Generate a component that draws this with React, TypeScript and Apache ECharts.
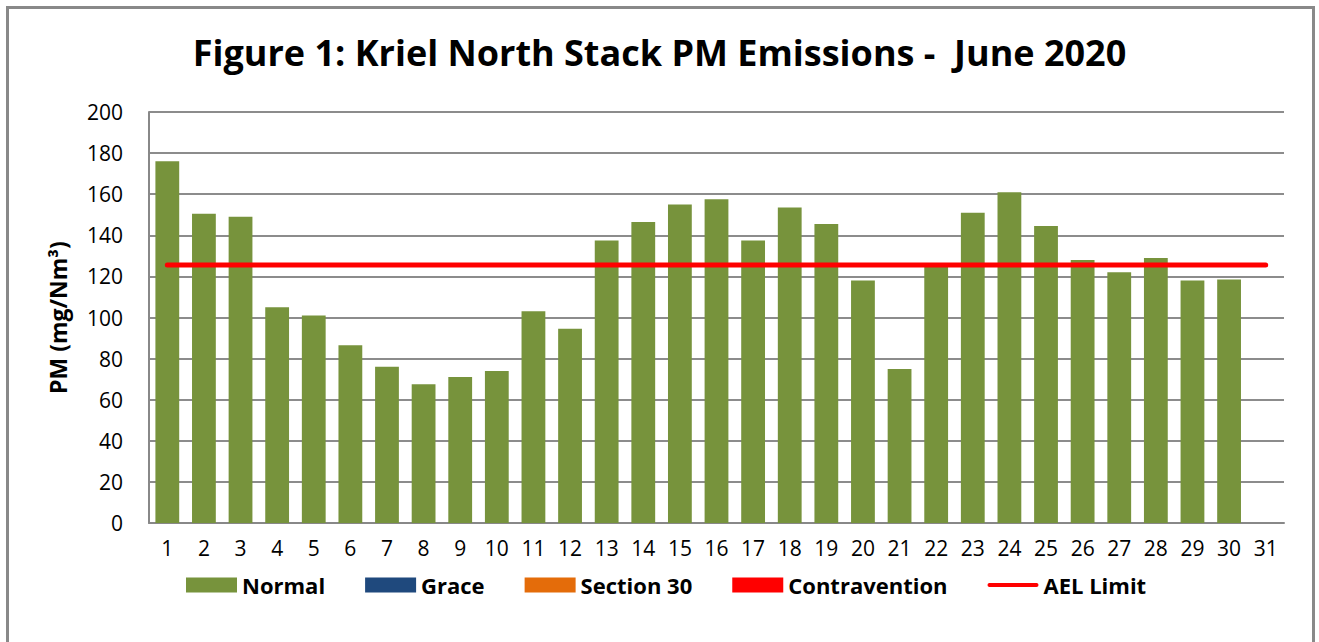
import React, { useEffect, useRef } from "react";
import * as echarts from "echarts";

const days = Array.from({ length: 31 }, (_, i) => String(i + 1));
const normal = [176, 150.5, 149, 105, 101, 86.5, 76, 67.5, 71, 74, 103, 94.5, 137.5, 146.5, 155, 157.5, 137.5, 153.5, 145.5, 118, 75, 125.5, 151, 161, 144.5, 128, 122, 129, 118, 118.5, null];
const grace: (number | null)[] = [];
const section30: (number | null)[] = [];
const contravention: (number | null)[] = [];
const aelLimit = days.map(() => 125.5);
const yTicks = { min: 0, max: 200, interval: 20 };

const FONT = "Open Sans";

export default function App() {
  const ref = useRef<HTMLDivElement>(null);
  useEffect(() => {
    document.body.style.margin = "0";
    const chart = echarts.init(ref.current!, null, { renderer: "svg" });
    chart.setOption({
      animation: false,
      backgroundColor: "#ffffff",
      textStyle: { fontFamily: FONT, color: "#000" },
      title: {
        text: "Figure 1: Kriel North Stack PM Emissions -  June 2020",
        left: "center",
        top: 29,
        textStyle: { fontFamily: FONT, fontWeight: "bold", fontSize: 36, color: "#000" },
      },
      graphic: [
        {
          type: "rect",
          shape: { x: 7.5, y: 7.5, width: 1306, height: 700 },
          style: { fill: "none", stroke: "#898989", lineWidth: 3 },
          silent: true,
        },
      ],
      grid: { left: 149, right: 35, top: 112, bottom: 119 },
      legend: {
        top: 569,
        left: 181,
        itemWidth: 51,
        itemHeight: 15,
        itemGap: 40,
        textStyle: { fontFamily: FONT, fontWeight: "bold", fontSize: 22, color: "#000" },
        data: [
          { name: "Normal", icon: "rect" },
          { name: "Grace", icon: "rect" },
          { name: "Section 30", icon: "rect" },
          { name: "Contravention", icon: "rect" },
          { name: "AEL Limit", icon: "path://M2,0 L50,0 A2,2 0 0 1 50,4 L2,4 A2,2 0 0 1 2,0 Z" },
        ],
      },
      xAxis: {
        type: "category",
        data: days,
        axisLine: { show: true, lineStyle: { color: "#888", width: 2 } },
        axisTick: { show: false },
        axisLabel: { fontFamily: FONT, fontSize: 21, color: "#000", margin: 14 },
      },
      yAxis: {
        type: "value",
        min: yTicks.min,
        max: yTicks.max,
        interval: yTicks.interval,
        name: "PM (mg/Nm³)",
        nameLocation: "middle",
        nameGap: 80,
        nameTextStyle: { fontFamily: FONT, fontWeight: "bold", fontSize: 23, color: "#000" },
        axisLine: { show: true, lineStyle: { color: "#888", width: 2 } },
        axisTick: { show: false },
        splitLine: { lineStyle: { color: "#8c8c8c", width: 2 } },
        axisLabel: { fontFamily: FONT, fontSize: 21, color: "#000", margin: 26 },
      },
      series: [
        { name: "Normal", type: "bar", stack: "s", barWidth: "65%", data: normal, itemStyle: { color: "#77933C" } },
        { name: "Grace", type: "bar", stack: "s", data: grace, itemStyle: { color: "#1F497D" } },
        { name: "Section 30", type: "bar", stack: "s", data: section30, itemStyle: { color: "#E46C0A" } },
        { name: "Contravention", type: "bar", stack: "s", data: contravention, itemStyle: { color: "#FF0000" } },
        {
          name: "AEL Limit",
          type: "line",
          data: aelLimit,
          symbol: "none",
          itemStyle: { color: "#FF0000" },
          lineStyle: { color: "#FF0000", width: 5, cap: "round" },
          z: 5,
        },
      ],
    });
    return () => chart.dispose();
  }, []);
  return <div ref={ref} style={{ position: "fixed", left: 0, top: 0, width: 1319, height: 642 }} />;
}
